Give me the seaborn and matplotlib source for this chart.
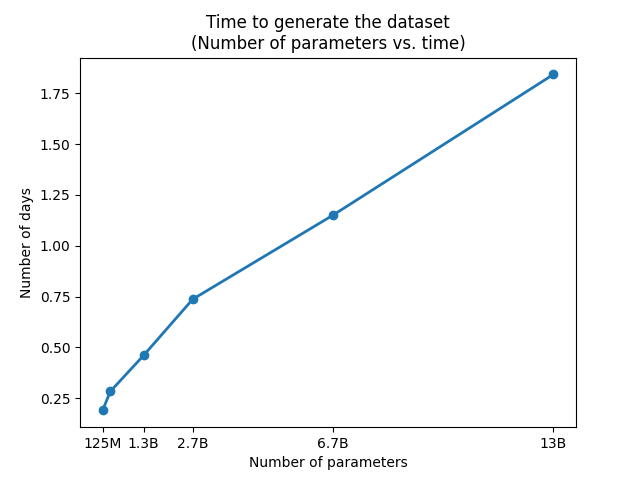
import pandas as pd
import matplotlib
matplotlib.use("Agg")
import matplotlib.pyplot as plt
import seaborn as sns

params_b = [0.125, 0.35, 1.3, 2.7, 6.7, 13]
days = [0.19, 0.284, 0.461, 0.737, 1.15, 1.843]
tick_pos = [0.125, 1.3, 2.7, 6.7, 13]
tick_labels = ['125M', '1.3B', '2.7B', '6.7B', '13B']

df = pd.DataFrame({'params': params_b, 'days': days})

fig, ax = plt.subplots(figsize=(6.4, 4.8), dpi=100)
sns.lineplot(data=df, x='params', y='days', marker='o', linewidth=2,
             markersize=6, markeredgecolor='#1f77b4', markeredgewidth=1,
             color='#1f77b4', ax=ax)
ax.set_xticks(tick_pos)
ax.set_xticklabels(tick_labels)
ax.set_title('Time to generate the dataset\n(Number of parameters vs. time)')
ax.set_xlabel('Number of parameters')
ax.set_ylabel('Number of days')
plt.savefig('out.png')
